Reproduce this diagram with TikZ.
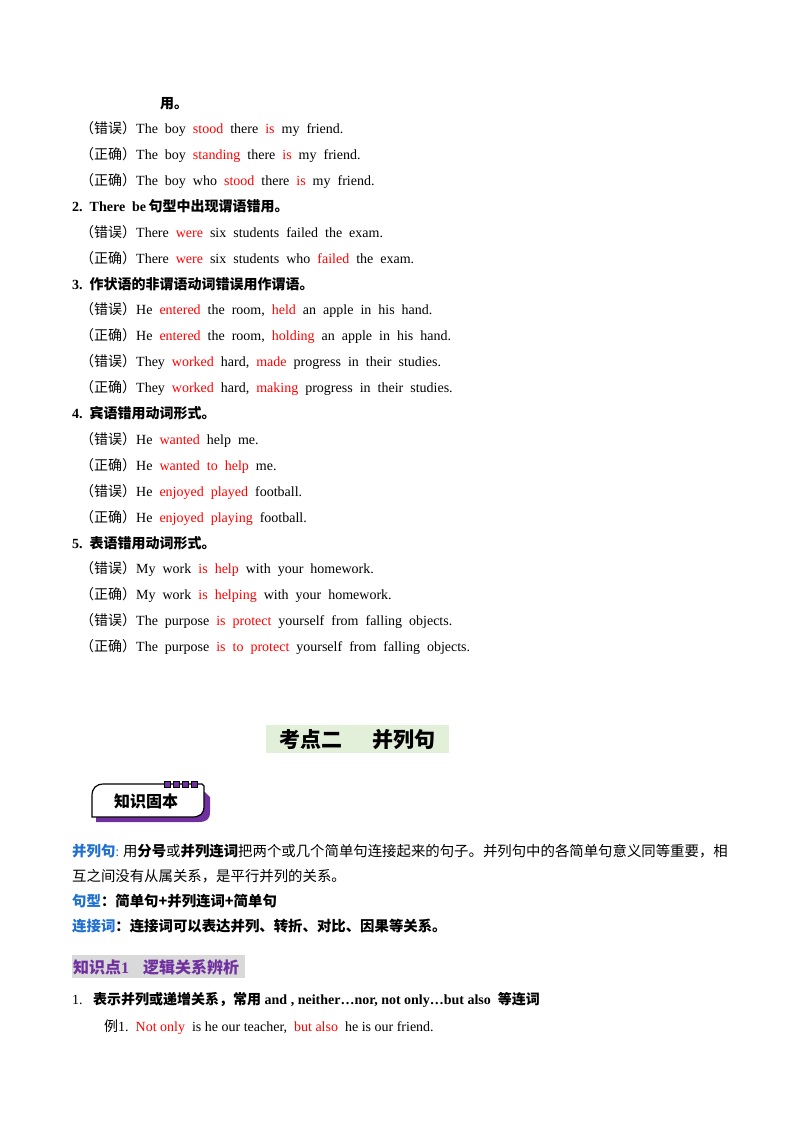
\documentclass[tikz,border=0pt]{standalone}
\usepackage{fontspec}
\setmainfont{Liberation Serif}
\newfontfamily\cjk{Noto Sans CJK SC}
\begin{document}
\begin{tikzpicture}[x=1pt,y=-1pt,
  ln/.style={anchor=base west,inner sep=0pt,yshift=-4pt,font=\fontsize{14}{16}\selectfont},
  bd/.style={ln,font=\fontsize{14}{16}\selectfont\bfseries},
  pl/.style={ln,font=\fontsize{14.4}{16}\selectfont}]
\definecolor{rd}{HTML}{FF0000}
\definecolor{bl}{HTML}{1F6FD0}
\definecolor{pu}{HTML}{7030A0}
\definecolor{gb}{HTML}{E2EFD9}
\newcommand\R[1]{\textcolor{rd}{#1}}
\newcommand\C[1]{{\cjk #1}}
\newcommand\CB[1]{{\cjk\bfseries #1}}
\useasboundingbox (0,0) rectangle (800,1132);
\node[ln] (l0) at (160,104) {\CB{用。}};
\node[ln] (l1) at (80,129) {\C{（错误）}The\ \ boy\ \ \R{stood}\ \ there\ \ \R{is}\ \ my\ \ friend.};
\node[ln] (l2) at (80,155) {\C{（正确）}The\ \ boy\ \ \R{standing}\ \ there\ \ \R{is}\ \ my\ \ friend.};
\node[ln] (l3) at (80,181) {\C{（正确）}The\ \ boy\ \ who\ \ \R{stood}\ \ there\ \ \R{is}\ \ my\ \ friend.};
\node[bd] (h2) at (72,207) {2.\ \ There\ \ be\,\CB{句型中出现谓语错用。}};
\node[ln] (l4) at (80,233) {\C{（错误）}There\ \ \R{were}\ \ six\ \ students\ \ failed\ \ the\ \ exam.};
\node[ln] (l5) at (80,259) {\C{（正确）}There\ \ \R{were}\ \ six\ \ students\ \ who\ \ \R{failed}\ \ the\ \ exam.};
\node[bd] (h3) at (72,285) {3.\ \ \CB{作状语的非谓语动词错误用作谓语。}};
\node[ln] (l6) at (80,310) {\C{（错误）}He\ \ \R{entered}\ \ the\ \ room,\ \ \R{held}\ \ an\ \ apple\ \ in\ \ his\ \ hand.};
\node[ln] (l7) at (80,336) {\C{（正确）}He\ \ \R{entered}\ \ the\ \ room,\ \ \R{holding}\ \ an\ \ apple\ \ in\ \ his\ \ hand.};
\node[ln] (l8) at (80,362) {\C{（错误）}They\ \ \R{worked}\ \ hard,\ \ \R{made}\ \ progress\ \ in\ \ their\ \ studies.};
\node[ln] (l9) at (80,388) {\C{（正确）}They\ \ \R{worked}\ \ hard,\ \ \R{making}\ \ progress\ \ in\ \ their\ \ studies.};
\node[bd] (h4) at (72,414) {4.\ \ \CB{宾语错用动词形式。}};
\node[ln] (l10) at (80,440) {\C{（错误）}He\ \ \R{wanted}\ \ help\ \ me.};
\node[ln] (l11) at (80,466) {\C{（正确）}He\ \ \R{wanted\ \ to\ \ help}\ \ me.};
\node[ln] (l12) at (80,492) {\C{（错误）}He\ \ \R{enjoyed\ \ played}\ \ football.};
\node[ln] (l13) at (80,518) {\C{（正确）}He\ \ \R{enjoyed\ \ playing}\ \ football.};
\node[bd] (h5) at (72,544) {5.\ \ \CB{表语错用动词形式。}};
\node[ln] (l14) at (80,569) {\C{（错误）}My\ \ work\ \ \R{is\ \ help}\ \ with\ \ your\ \ homework.};
\node[ln] (l15) at (80,595) {\C{（正确）}My\ \ work\ \ \R{is\ \ helping}\ \ with\ \ your\ \ homework.};
\node[ln] (l16) at (80,621) {\C{（错误）}The\ \ purpose\ \ \R{is\ \ protect}\ \ yourself\ \ from\ \ falling\ \ objects.};
\node[ln] (l17) at (80,647) {\C{（正确）}The\ \ purpose\ \ \R{is\ \ to\ \ protect}\ \ yourself\ \ from\ \ falling\ \ objects.};
% heading
\fill[gb] (266,725) rectangle (449,753);
\node[inner sep=0pt,font=\fontsize{21}{23}\selectfont\cjk\bfseries] (kd) at (357.5,740) {考点二\hspace{30pt}并列句};
% badge
\fill[pu] (100,792) -- (205,792) -- (210,797) -- (210,812) .. controls (210,820) and (206,822) .. (198,822) -- (96,822) -- (96,800) .. controls (96,794) and (98,792) .. (100,792) -- cycle;
\draw[line width=1.2pt,fill=white] (104,784) -- (202,784) -- (204,786) -- (204,806) .. controls (204,814) and (200,817) .. (192,817) -- (92,817) -- (92,796) .. controls (92,788) and (96,784) .. (104,784) -- cycle;
\foreach \i in {0,1,2,3} \draw[line width=0.8pt,fill=pu] (164+\i*9,781) rectangle (170+\i*9,787);
\node[inner sep=0pt,font=\fontsize{16}{18}\selectfont\cjk\bfseries] (zs) at (146,801) {知识固本};
% paragraph
\node[pl] (p1) at (72,852) {\textcolor{bl}{\CB{并列句}}\textcolor{bl}{:}\ \C{用}\CB{分号}\C{或}\CB{并列连词}\C{把两个或几个简单句连接起来的句子。并列句中的各简单句意义同等重要，相}};
\node[pl] (p2) at (72,877) {\C{互之间没有从属关系，是平行并列的关系。}};
\node[pl] (p3) at (72,902) {\textcolor{bl}{\CB{句型}}\CB{：简单句+并列连词+简单句}};
\node[pl] (p4) at (72,927) {\textcolor{bl}{\CB{连接词}}\CB{：连接词可以表达并列、转折、对比、因果等关系。}};
\fill[gray!30] (72,955) rectangle (245,978);
\node[anchor=base west,inner sep=0pt,font=\fontsize{16}{18}\selectfont\bfseries,text=pu] (zd) at (73,973) {\CB{知识点}1\hspace{14pt}\CB{逻辑关系辨析}};
\node[bd] (q1) at (72,1000) {\mdseries 1.\ \ \ \bfseries\CB{表示并列或递增关系，常用} and , neither…nor, not only…but also\ \ \CB{等连词}};
\node[ln] (q2) at (104,1027) {\C{例}1.\ \ \R{Not only}\ \ is he our teacher,\ \ \R{but also}\ \ he is our friend.};
\end{tikzpicture}
\end{document}
